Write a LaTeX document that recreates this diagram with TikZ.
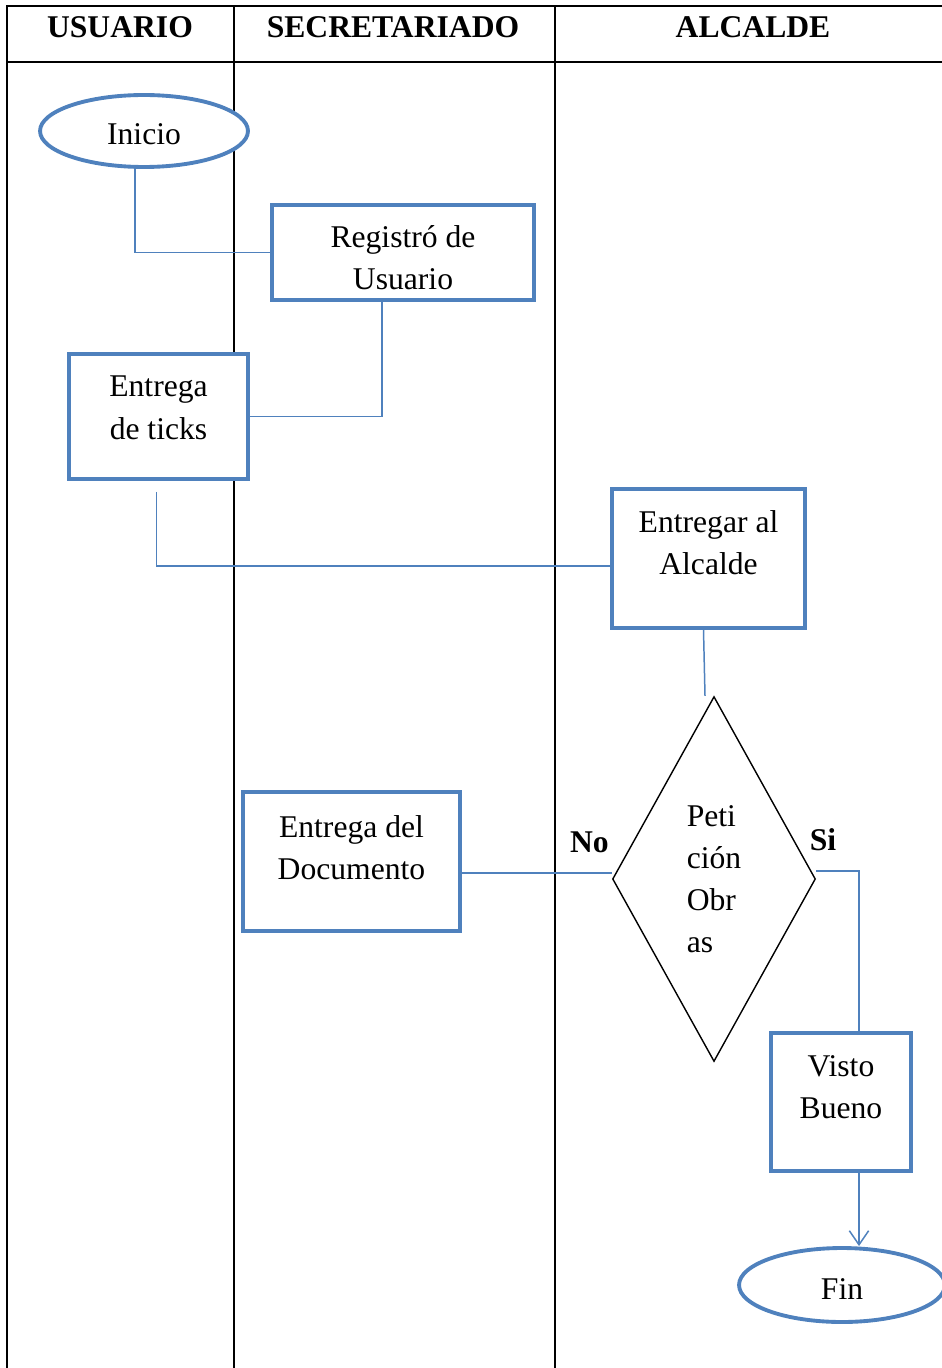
\documentclass[tikz,border=0pt]{standalone}
\usepackage{fontspec}
\setmainfont{Liberation Serif}
\usepackage{xcolor}
\usetikzlibrary{shapes.geometric, arrows.meta, calc}
\definecolor{flujo}{RGB}{79,129,189}
\newcommand{\flowfont}{\fontsize{18}{24}\selectfont}
% hueco invisible bajo la ultima linea (sube el texto) / sobre la primera (lo baja)
\newcommand{\bajo}[1]{\rule[-#1]{0pt}{#1}}
\newcommand{\alto}[1]{\rule{0pt}{#1}}
\tikzset{
  box/.style={rectangle, draw=flujo, line width=2.2pt, fill=white, align=center,
              inner sep=0pt, font=\flowfont},
  term/.style={ellipse, draw=flujo, line width=2.2pt, fill=white,
               inner sep=0pt, font=\flowfont},
  decision/.style={diamond, draw=black, line width=0.8pt, fill=white, align=left,
                   inner sep=0pt, font=\flowfont},
  conn/.style={draw=flujo, line width=0.85pt},
  lane/.style={draw=black, line width=1.1pt},
  head/.style={font=\flowfont\bfseries},
}

\begin{document}
\begin{tikzpicture}[x=0.02cm, y=-0.02cm]
  \useasboundingbox (0,0) rectangle (942,1368);
  % carriles
  \draw[lane] (942,6) -- (7,6) -- (7,1368);
  \draw[lane] (7,62) -- (942,62);
  \draw[lane] (234,6) -- (234,1368);
  \draw[lane] (555,6) -- (555,1368);
  \node[head] (hUsuario) at (120,27) {USUARIO};
  \node[head] (hSecretariado) at (393,27) {SECRETARIADO};
  \node[head] (hAlcalde) at (753,27) {ALCALDE};

  \node[term, minimum width=4.16cm, minimum height=1.44cm] (inicio) at (144,131) {\alto{16pt}Inicio};
  \node[box, minimum width=5.24cm, minimum height=1.9cm] (registro) at (403,252.5) {\alto{18pt}Registró de\\Usuario};
  \node[box, minimum width=3.58cm, minimum height=2.5cm] (ticks) at (158.5,416.5) {Entrega\\de ticks\bajo{10pt}};
  \node[box, minimum width=3.86cm, minimum height=2.78cm] (alcalde) at (708.5,558.5) {Entregar al\\Alcalde\bajo{18pt}};
  \node[decision, minimum width=4.06cm, minimum height=7.3cm] (peticion) at (714,879) {Peti\\ción\\Obr\\as};
  \node[box, minimum width=4.34cm, minimum height=2.78cm] (documento) at (351.5,861.5) {Entrega del\\Documento\bajo{16pt}};
  \node[box, minimum width=2.8cm, minimum height=2.76cm] (visto) at (841,1102) {Visto\\Bueno\bajo{17pt}};
  \node[term, minimum width=4.12cm, minimum height=1.48cm] (fin) at (842,1285) {\alto{16pt}Fin};

  \draw[conn] ($(inicio.south)+(-9,0)$) |- (registro.west);
  \draw[conn] ($(registro.south)+(-21,0)$) |- (ticks.east);
  \draw[conn] ($(ticks.south)+(-2,11)$) |- ($(alcalde.west)+(0,7.5)$);
  \draw[conn] ($(alcalde.south)+(-5,0)$) -- ($(peticion.north)+(-9,0)$);
  \draw[conn] ($(peticion.west -| documento.east)+(0,-6)$) -- node[head, pos=0.85, above=8pt] {No} ($(peticion.west)+(0,-6)$);
  \draw[conn] ($(peticion.east)+(0,-8)$) -| node[head, pos=0.08, above=8pt] {Si} ($(visto.north)+(18,0)$);
  \draw[conn, -{Straight Barb[length=8pt, width=11pt]}] ($(visto.south)+(18,0)$) -- ($(fin.north)+(17,0)$);
\end{tikzpicture}
\end{document}
